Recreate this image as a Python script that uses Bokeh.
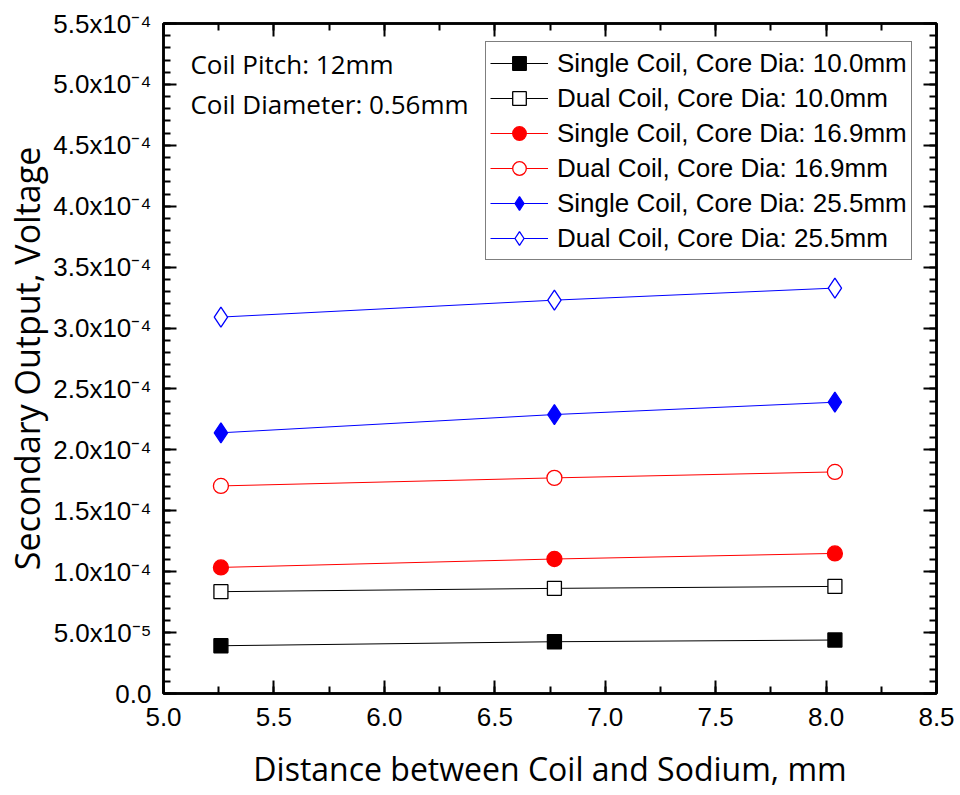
from bokeh.plotting import figure
from bokeh.models import (LinearAxis, FixedTicker, CustomJSTickFormatter, Legend,
                          LegendItem, Label)
from bokeh.embed import file_html
from bokeh.resources import INLINE

# Distance between coil and sodium (mm)
distance = [5.26, 6.77, 8.04]

# Secondary output voltage (V)
single_10 = [3.92e-5, 4.25e-5, 4.39e-5]
dual_10 = [8.36e-5, 8.63e-5, 8.79e-5]
single_169 = [1.035e-4, 1.104e-4, 1.150e-4]
dual_169 = [1.704e-4, 1.770e-4, 1.819e-4]
single_255 = [2.140e-4, 2.290e-4, 2.391e-4]
dual_255 = [3.090e-4, 3.229e-4, 3.328e-4]

series_labels = [
    "Single Coil, Core Dia: 10.0mm",
    "Dual Coil, Core Dia: 10.0mm",
    "Single Coil, Core Dia: 16.9mm",
    "Dual Coil, Core Dia: 16.9mm",
    "Single Coil, Core Dia: 25.5mm",
    "Dual Coil, Core Dia: 25.5mm",
]

x_ticks = [5.0, 5.5, 6.0, 6.5, 7.0, 7.5, 8.0, 8.5]
x_tick_labels = ["5.0", "5.5", "6.0", "6.5", "7.0", "7.5", "8.0", "8.5"]
y_ticks = [0.0, 5e-5, 1e-4, 1.5e-4, 2e-4, 2.5e-4, 3e-4, 3.5e-4, 4e-4, 4.5e-4, 5e-4, 5.5e-4]
y_tick_labels = ["0.0", "5.0x10⁻⁵", "1.0x10⁻⁴", "1.5x10⁻⁴", "2.0x10⁻⁴", "2.5x10⁻⁴",
                 "3.0x10⁻⁴", "3.5x10⁻⁴", "4.0x10⁻⁴", "4.5x10⁻⁴", "5.0x10⁻⁴", "5.5x10⁻⁴"]

notes = ["Coil Pitch: 12mm", "Coil Diameter: 0.56mm"]
note_y = [5.166e-4, 4.837e-4]

TICK_FONT = "Liberation Sans"
TITLE_FONT = "Open Sans"

p = figure(width=960, height=795, x_range=(5.0, 8.5), y_range=(0.0, 5.5e-4),
           output_backend="svg", toolbar_location=None,
           min_border_left=163, min_border_right=24, min_border_top=23,
           min_border_bottom=102, x_axis_location=None, y_axis_location=None)
p.grid.visible = False
p.background_fill_color = "white"
p.border_fill_color = "white"
p.outline_line_color = "black"
p.outline_line_width = 2.5

x_minor = [5.0 + 0.25 * i for i in range(15)]
y_minor = [1e-5 * i for i in range(56)]

label_js = """
const i = tvals.findIndex(t => Math.abs(t - tick) < 1e-12 * Math.max(1, Math.abs(t)) + 1e-15);
return i >= 0 ? tlabels[i] : "";
"""


def style_axis(ax, show_labels):
    ax.axis_line_color = "black"
    ax.axis_line_width = 2.5
    ax.major_tick_line_color = "black"
    ax.major_tick_line_width = 2
    ax.minor_tick_line_color = "black"
    ax.minor_tick_line_width = 2
    ax.major_tick_in = 13
    ax.major_tick_out = 0
    ax.minor_tick_in = 7
    ax.minor_tick_out = 0
    ax.major_label_text_font = TICK_FONT
    ax.major_label_text_font_size = "26px"
    ax.major_label_text_color = "black"
    if not show_labels:
        ax.formatter = CustomJSTickFormatter(code='return "";')
        ax.major_label_standoff = 0


bottom = LinearAxis(ticker=FixedTicker(ticks=x_ticks, minor_ticks=x_minor),
                    formatter=CustomJSTickFormatter(args=dict(tvals=x_ticks, tlabels=x_tick_labels), code=label_js),
                    axis_label="Distance between Coil and Sodium, mm")
style_axis(bottom, True)
bottom.major_label_standoff = 14
bottom.axis_label_standoff = 18
bottom.axis_label_text_font = TITLE_FONT
bottom.axis_label_text_font_size = "32px"
bottom.axis_label_text_font_style = "normal"
bottom.axis_label_text_color = "black"

left = LinearAxis(ticker=FixedTicker(ticks=y_ticks, minor_ticks=y_minor),
                  formatter=CustomJSTickFormatter(args=dict(tvals=y_ticks, tlabels=y_tick_labels), code=label_js),
                  axis_label="Secondary Output, Voltage")
style_axis(left, True)
left.major_label_standoff = 12
left.axis_label_standoff = 0
left.axis_label_text_font = TITLE_FONT
left.axis_label_text_font_size = "34px"
left.axis_label_text_font_style = "normal"
left.axis_label_text_color = "black"

top = LinearAxis(ticker=FixedTicker(ticks=x_ticks, minor_ticks=x_minor))
style_axis(top, False)
right = LinearAxis(ticker=FixedTicker(ticks=y_ticks, minor_ticks=y_minor))
style_axis(right, False)

p.add_layout(bottom, "below")
p.add_layout(left, "left")
p.add_layout(top, "above")
p.add_layout(right, "right")

series = [
    (single_10, "black", "square", "black", 14),
    (dual_10, "black", "square", "white", 14),
    (single_169, "red", "circle", "red", 15),
    (dual_169, "red", "circle", "white", 15),
    (single_255, "blue", "diamond", "blue", 20),
    (dual_255, "blue", "diamond", "white", 20),
]

items = []
for (vals, color, marker, fill, size), name in zip(series, series_labels):
    ln = p.line(distance, vals, line_color=color, line_width=1)
    sc = p.scatter(distance, vals, marker=marker, size=size, line_color=color,
                   fill_color=fill, line_width=1.3)
    items.append(LegendItem(label=name, renderers=[ln, sc]))

legend = Legend(items=items, location=(322, 433))
legend.label_text_font = TICK_FONT
legend.label_text_font_size = "26px"
legend.label_text_color = "black"
legend.glyph_width = 58
legend.glyph_height = 34
legend.label_height = 34
legend.label_standoff = 9
legend.spacing = 1
legend.padding = 4
legend.margin = 0
legend.border_line_color = "black"
legend.border_line_width = 1.2
legend.background_fill_color = "white"
legend.background_fill_alpha = 1.0
p.add_layout(legend, "center")

for note, yv in zip(notes, note_y):
    p.add_layout(Label(x=5.122, y=yv, text=note, text_font=TITLE_FONT,
                       text_font_size="26px", text_color="black",
                       text_baseline="middle"))

open("out.html", "w").write(file_html(p, INLINE))
